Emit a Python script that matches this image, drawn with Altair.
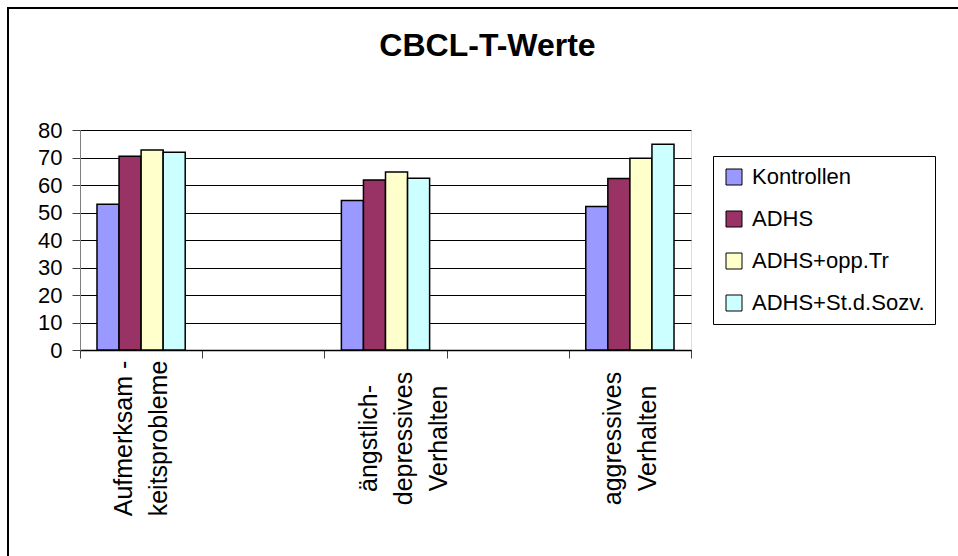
import altair as alt
import pandas as pd

# Categories on the x axis (two empty spacer slots between the real groups)
categories = [
    "Aufmerksam -\nkeitsprobleme",
    " ",
    "ängstlich-\ndepressives\nVerhalten",
    "  ",
    "aggressives\nVerhalten",
]
filled = [categories[0], categories[2], categories[4]]

groups = ["Kontrollen", "ADHS", "ADHS+opp.Tr", "ADHS+St.d.Sozv."]
colors = ["#9999FF", "#993366", "#FFFFCC", "#CCFFFF"]

# T-values per group, one per filled category
kontrollen = [53.0, 54.4, 52.2]
adhs = [70.5, 61.8, 62.4]
adhs_opp = [72.7, 64.7, 69.7]
adhs_sozv = [71.9, 62.5, 74.8]

series = [kontrollen, adhs, adhs_opp, adhs_sozv]
rows = []
for g, vals in zip(groups, series):
    for c, v in zip(filled, vals):
        rows.append({"Kategorie": c, "Gruppe": g, "Wert": v})
df = pd.DataFrame(rows)

FONT = "Liberation Sans"
LINE_H = 35

bars = alt.Chart(df).mark_bar(stroke="black", strokeWidth=1.5).encode(
    x=alt.X(
        "Kategorie:N",
        sort=categories,
        scale=alt.Scale(domain=categories, paddingInner=0, paddingOuter=0),
        axis=alt.Axis(
            title=None,
            labelAngle=270,
            labelAlign="center",
            labelBaseline="middle",
            # pull two-line label blocks back so they sit centred on their band
            labelOffset=-LINE_H / 2,
            labelFont=FONT,
            labelFontSize=25,
            labelLineHeight=LINE_H,
            labelColor="black",
            labelLimit=400,
            labelExpr="split(datum.label, '\\n')",
            labelPadding=80,
            tickBand="extent",
            tickSize=8,
            tickColor="#404040",
            domainColor="black",
            domainWidth=1.5,
            grid=False,
        ),
    ),
    xOffset=alt.XOffset(
        "Gruppe:N",
        sort=groups,
        scale=alt.Scale(domain=groups, paddingInner=0, paddingOuter=0.77),
    ),
    y=alt.Y(
        "Wert:Q",
        scale=alt.Scale(domain=[0, 80], nice=False),
        axis=alt.Axis(
            title=None,
            values=list(range(0, 90, 10)),
            labelFont=FONT,
            labelFontSize=22,
            labelColor="black",
            labelPadding=10,
            tickSize=8,
            tickColor="#404040",
            domainColor="#808080",
            grid=True,
            gridColor="black",
            gridWidth=1,
        ),
    ),
    color=alt.Color(
        "Gruppe:N",
        sort=groups,
        scale=alt.Scale(domain=groups, range=colors),
        legend=alt.Legend(
            title=None,
            orient="none",
            legendX=633,
            legendY=26,
            direction="vertical",
            fillColor="white",
            strokeColor="black",
            padding=10,
            symbolType="square",
            symbolSize=256,
            symbolStrokeColor="black",
            symbolStrokeWidth=1,
            symbolOpacity=1,
            labelFont=FONT,
            labelFontSize=22,
            labelColor="black",
            labelOffset=7,
            labelLimit=400,
            rowPadding=20,
        ),
    ),
)

# Chart frame: an outlined box whose right and bottom edges fall outside the page
frame_df = pd.DataFrame({"k": [0]})
frame = alt.Chart(frame_df).mark_rect(
    fillOpacity=0, stroke="black", strokeWidth=2
).encode(
    x=alt.value(-72), x2=alt.value(1000), y=alt.value(-122), y2=alt.value(600)
)

chart = alt.layer(bars, frame).properties(
    width=611,
    height=220,
    title=alt.TitleParams(
        "CBCL-T-Werte",
        font=FONT,
        fontSize=32,
        fontWeight="bold",
        color="black",
        anchor="middle",
        frame="group",
        baseline="alphabetic",
        offset=0,
        dy=81,
        dx=102,
    ),
    autosize=alt.AutoSizeParams(type="none"),
    padding={"left": 80, "top": 130, "right": 267, "bottom": 206},
).configure_view(
    fill="#C0C0C0", stroke="#808080", strokeWidth=1.5
).configure(background="white")

chart.save("out.html", embed_options={"renderer": "svg", "actions": False})
